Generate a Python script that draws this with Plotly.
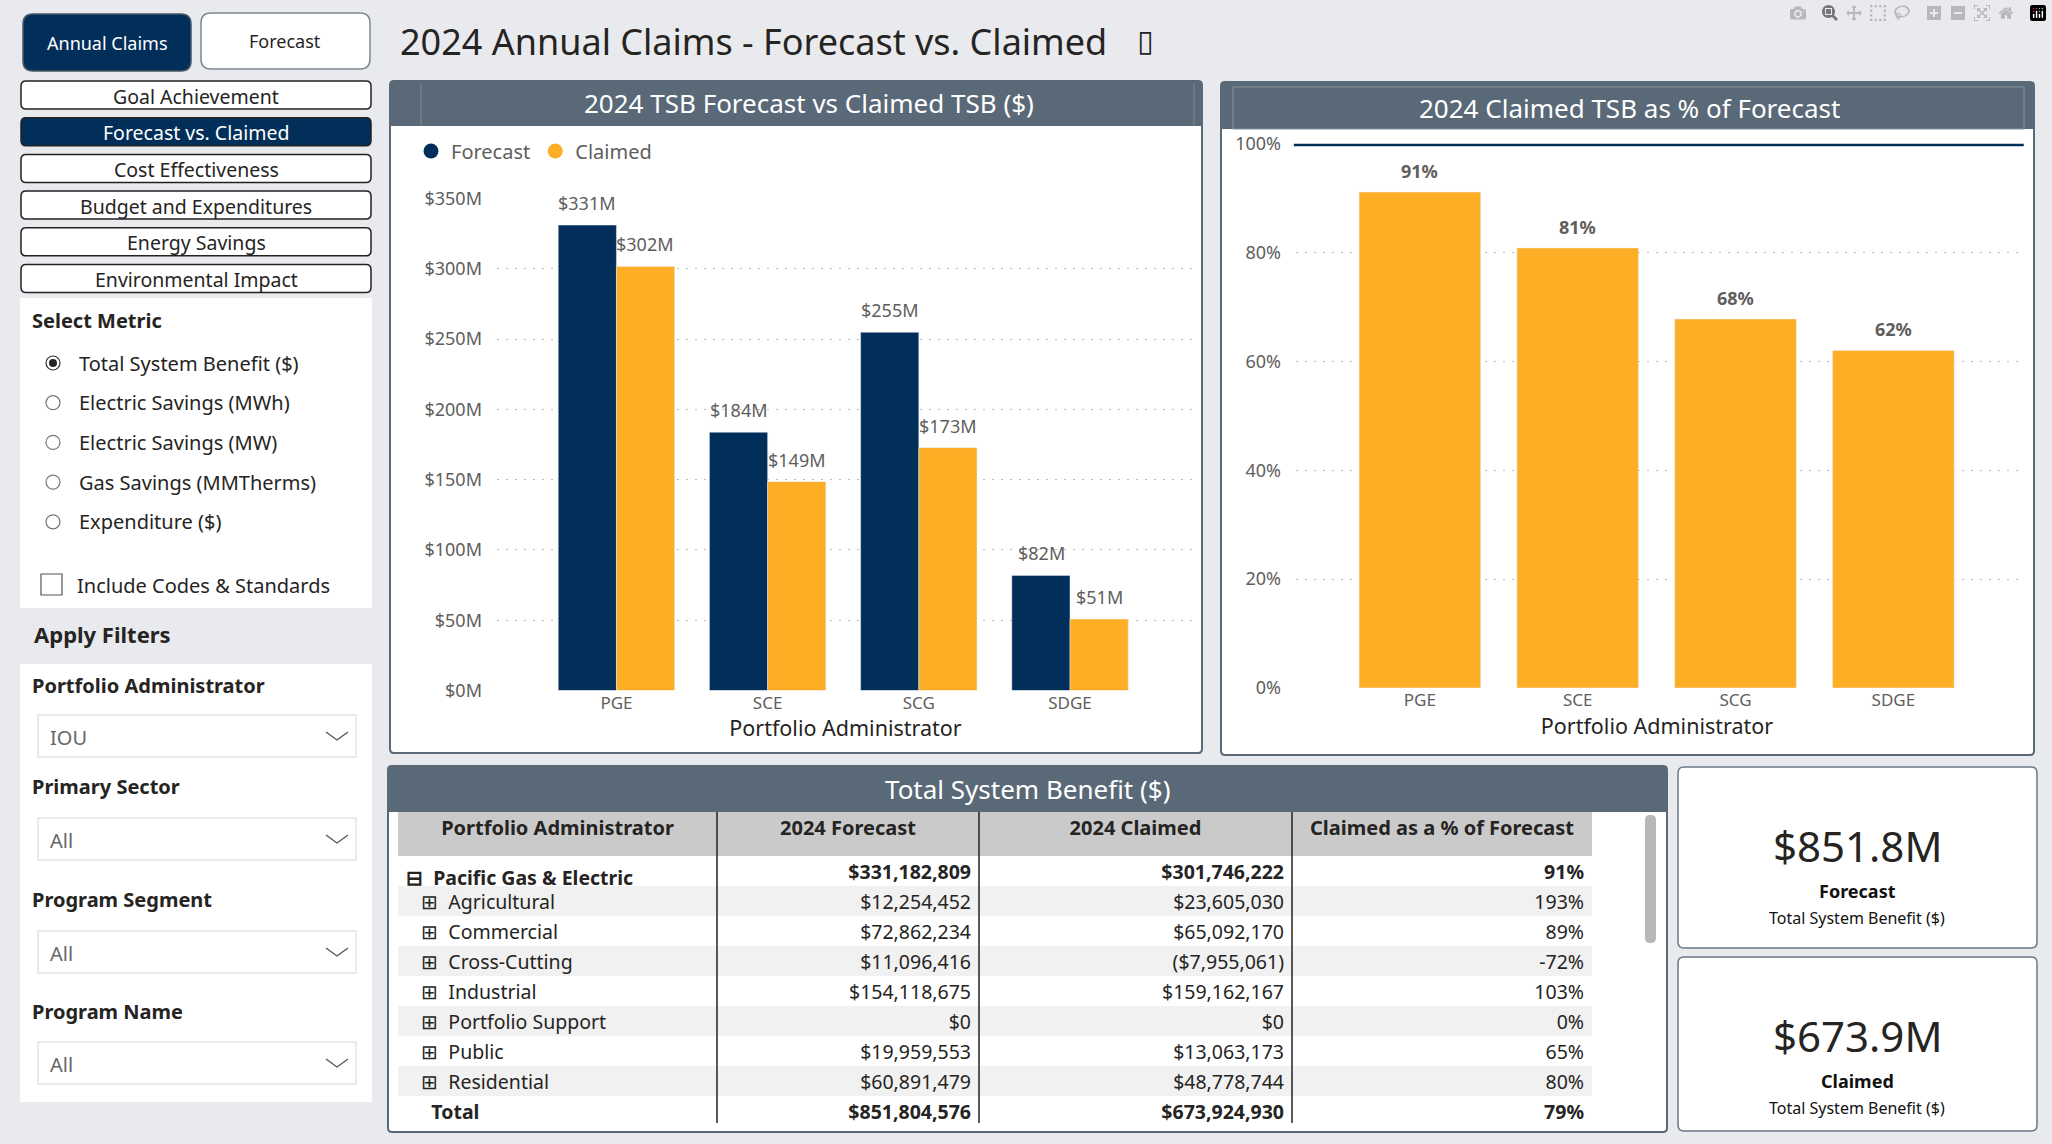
"""
    Main purpose:
        Rebuild the 2024 Annual Claims dashboard page (Forecast vs. Claimed).
"""

import plotly.graph_objects as go


W = 2052
H = 1144
FONT = 'Segoe UI, Noto Sans, sans-serif'
NAVY = '#022E5A'
ORANGE = '#FDAE24'
SLATE = '#5A6977'
BG = '#E9EAEE'
TXT = '#252423'
GREY_TXT = '#605E5C'

# chart data
PA = ['PGE', 'SCE', 'SCG', 'SDGE']
FORECAST_M = [331.18, 183.8, 254.9, 81.9]
CLAIMED_M = [301.75, 148.6, 172.8, 50.8]
TARGET_PCT = 1.0

# table data
SECTORS = ['Agricultural', 'Commercial', 'Cross-Cutting', 'Industrial',
           'Portfolio Support', 'Public', 'Residential']
PGE_FORECAST = 331182809
PGE_CLAIMED = 301746222
SECTOR_FORECAST = [12254452, 72862234, 11096416, 154118675, 0, 19959553, 60891479]
SECTOR_CLAIMED = [23605030, 65092170, -7955061, 159162167, 0, 13063173, 48778744]
TOTAL_FORECAST = 851804576
TOTAL_CLAIMED = 673924930
TABLE_HEADERS = ['Portfolio Administrator', '2024 Forecast', '2024 Claimed',
                 'Claimed as a % of Forecast']

# page furniture
NAV_PAGES = ['Goal Achievement', 'Forecast vs. Claimed', 'Cost Effectiveness',
             'Budget and Expenditures', 'Energy Savings', 'Environmental Impact']
ACTIVE_PAGE = 1
METRICS = ['Total System Benefit ($)', 'Electric Savings (MWh)',
           'Electric Savings (MW)', 'Gas Savings (MMTherms)', 'Expenditure ($)']
FILTER_LABELS = ['Portfolio Administrator', 'Primary Sector',
                 'Program Segment', 'Program Name']
FILTER_VALUES = ['IOU', 'All', 'All', 'All']
KPI_VALUES = ['$851.8M', '$673.9M']
KPI_NAMES = ['Forecast', 'Claimed']

COL_WIDTHS = [319, 262, 313, 300]
COL_ALIGN = ['left', 'right', 'right', 'right']
ROW_H = 30


def px_x(x):
    """Pixel column to paper x."""
    return x / W


def px_y(y):
    """Pixel row (from top) to paper y."""
    return 1 - y / H


def rrect(x0, y0, x1, y1, r, fill, line, width=1.5, layer='below'):
    """Rounded rectangle shape in pixel coordinates."""
    p = (
        f'M {px_x(x0 + r)},{px_y(y0)} L {px_x(x1 - r)},{px_y(y0)} '
        f'Q {px_x(x1)},{px_y(y0)} {px_x(x1)},{px_y(y0 + r)} '
        f'L {px_x(x1)},{px_y(y1 - r)} '
        f'Q {px_x(x1)},{px_y(y1)} {px_x(x1 - r)},{px_y(y1)} '
        f'L {px_x(x0 + r)},{px_y(y1)} '
        f'Q {px_x(x0)},{px_y(y1)} {px_x(x0)},{px_y(y1 - r)} '
        f'L {px_x(x0)},{px_y(y0 + r)} '
        f'Q {px_x(x0)},{px_y(y0)} {px_x(x0 + r)},{px_y(y0)} Z'
    )
    return dict(type='path', path=p, xref='paper', yref='paper',
                fillcolor=fill, line=dict(color=line, width=width), layer=layer)


def box(x0, y0, x1, y1, fill, line=None, width=1, layer='below'):
    """Plain rectangle shape in pixel coordinates."""
    return dict(type='rect', xref='paper', yref='paper',
                x0=px_x(x0), x1=px_x(x1), y0=px_y(y1), y1=px_y(y0),
                fillcolor=fill, layer=layer,
                line=dict(color=line or fill, width=width if line else 0))


def vline(x, y0, y1, color, width=1, layer='below'):
    """Vertical line in pixel coordinates."""
    return dict(type='line', xref='paper', yref='paper',
                x0=px_x(x), x1=px_x(x), y0=px_y(y0), y1=px_y(y1),
                line=dict(color=color, width=width), layer=layer)


def text(x, y, s, size, color=TXT, bold=False, xanchor='center', family=FONT):
    """Annotation placed in pixel coordinates."""
    if bold:
        s = f'<b>{s}</b>'
    return dict(x=px_x(x), y=px_y(y), xref='paper', yref='paper', text=s,
                showarrow=False, xanchor=xanchor, yanchor='middle',
                font=dict(size=size, color=color, family=family))


def bar_label(cat, val, label, xref, yref, xshift, yshift, bold=False):
    """Data label sitting above a bar, placed on the chart axes."""
    return dict(x=cat, y=val, xref=xref, yref=yref, xshift=xshift, yshift=yshift,
                text=f'<b>{label}</b>' if bold else label, showarrow=False,
                yanchor='middle', xanchor='center',
                font=dict(size=18, color=GREY_TXT, family=FONT))


def money(v):
    """Format a dollar amount like Power BI."""
    if v < 0:
        return f'(${-v:,.0f})'
    return f'${v:,.0f}'


def pct(a, b):
    """Claimed as share of forecast."""
    return f'{(a / b if b else 0):.0%}'


def table_block(top, bottom, head_values, head_fill, head_weight, head_align,
                head_h, cell_values, cell_fill, cell_weight):
    """One slice of the matrix; slices are stacked to mix bold and plain rows."""
    return go.Table(
        domain=dict(x=[px_x(398), px_x(1592)], y=[px_y(bottom), px_y(top)]),
        columnwidth=COL_WIDTHS,
        header=dict(
            values=head_values, fill_color=head_fill, align=head_align,
            height=head_h, line=dict(color=head_fill, width=0),
            font=dict(size=20 if head_weight == 'bold' and head_h > ROW_H else 19.5,
                      color=TXT, family=FONT, weight=head_weight)
        ),
        cells=dict(
            values=cell_values,
            fill_color=[cell_fill] * 4, line=dict(color=[cell_fill] * 4, width=0),
            align=COL_ALIGN, height=ROW_H,
            font=dict(size=19.5, color=TXT, family=FONT, weight=cell_weight)
        )
    )


fig = go.Figure()

# ---- left chart: forecast vs claimed
fig.add_trace(go.Bar(
    x=PA, y=FORECAST_M, name='Forecast', marker_color=NAVY,
    showlegend=False, xaxis='x', yaxis='y'
))
fig.add_trace(go.Bar(
    x=PA, y=CLAIMED_M, name='Claimed', marker_color=ORANGE,
    showlegend=False, xaxis='x', yaxis='y'
))
# legend entries drawn as round dots
for name, col in (('Forecast', NAVY), ('Claimed', ORANGE)):
    fig.add_trace(go.Scatter(
        x=[None], y=[None], mode='markers', name=name,
        marker=dict(color=col, size=15, symbol='circle'),
        xaxis='x', yaxis='y'
    ))

# ---- right chart: claimed as % of forecast
ratio = [c / f for c, f in zip(CLAIMED_M, FORECAST_M)]
fig.add_trace(go.Bar(
    x=PA, y=ratio, marker_color=ORANGE, showlegend=False,
    xaxis='x2', yaxis='y2'
))

# ---- table (header + PG&E row, sector rows, total row)
pge_row = [['⊟\u00a0 Pacific Gas & Electric'], [money(PGE_FORECAST)],
           [money(PGE_CLAIMED)], [pct(PGE_CLAIMED, PGE_FORECAST)]]
sector_cols = [
    [f'\u00a0\u00a0\u00a0⊞\u00a0 {s}' for s in SECTORS],
    [money(v) for v in SECTOR_FORECAST],
    [money(v) for v in SECTOR_CLAIMED],
    [pct(c, f) for c, f in zip(SECTOR_CLAIMED, SECTOR_FORECAST)],
]
total_row = ['\u00a0\u00a0\u00a0\u00a0\u00a0Total', money(TOTAL_FORECAST),
             money(TOTAL_CLAIMED), pct(TOTAL_CLAIMED, TOTAL_FORECAST)]
# first sector row rides in a header slot, the rest are ordinary cells
first_sector = [col[0] for col in sector_cols]
other_sectors = [col[1:] for col in sector_cols]
other_fill = ['white' if i % 2 == 0 else '#F1F1F1'
              for i in range(len(SECTORS) - 1)]

t_top = 812
pge_bottom = t_top + 44 + ROW_H
sector_bottom = pge_bottom + ROW_H * len(SECTORS)
fig.add_trace(table_block(t_top, pge_bottom + 1, TABLE_HEADERS, '#CACACA', 'bold',
                          'center', 44, pge_row, ['white'], 'bold'))
fig.add_trace(table_block(pge_bottom, sector_bottom + 1, first_sector, '#F1F1F1',
                          'normal', COL_ALIGN, ROW_H, other_sectors, other_fill,
                          'normal'))
fig.add_trace(table_block(sector_bottom, sector_bottom + ROW_H + 1, total_row,
                          'white', 'bold', COL_ALIGN, ROW_H, [], ['white'], 'bold'))

shapes = []
annotations = []

# bar labels
for cat, f, c, r in zip(PA, FORECAST_M, CLAIMED_M, ratio):
    annotations.append(bar_label(cat, f, f'${f:.0f}M', 'x', 'y', -29, 22))
    annotations.append(bar_label(cat, c, f'${c:.0f}M', 'x', 'y', 29, 22))
    annotations.append(bar_label(cat, r, f'{r:.0%}', 'x2', 'y2', 0, 21, bold=True))

# page title and top buttons
annotations.append(text(398, 42, '2024 Annual Claims - Forecast vs. Claimed', 36,
                        xanchor='left'))
annotations.append(text(1145, 41, '▯', 30, xanchor='center', family='DejaVu Sans'))
shapes.append(rrect(23, 14, 191, 71, 10, NAVY, '#4A5866', 1.5))
annotations.append(text(107, 43, 'Annual Claims', 18, color='white'))
shapes.append(rrect(201, 13, 370, 69, 10, 'white', '#7D8891', 1.5))
annotations.append(text(285, 41, 'Forecast', 18))

# navigation buttons
for i, page in enumerate(NAV_PAGES):
    y0 = 81 + i * 36.7
    active = i == ACTIVE_PAGE
    shapes.append(rrect(21, y0, 371, y0 + 28, 5, NAVY if active else 'white',
                        '#222222', 1.5))
    annotations.append(text(196, y0 + 15, page, 19.5,
                            color='white' if active else TXT))

# metric selector panel
shapes.append(box(20, 298, 372, 608, 'white'))
annotations.append(text(30, 320, 'Select Metric', 20, bold=True, xanchor='left'))
for i, m in enumerate(METRICS):
    yy = 363 + i * 39.7
    shapes.append(dict(type='circle', xref='paper', yref='paper',
                       x0=px_x(46), x1=px_x(60), y0=px_y(yy + 7), y1=px_y(yy - 7),
                       line=dict(color='#333333' if i == 0 else '#777777', width=1.2),
                       fillcolor='white', layer='above'))
    if i == 0:
        shapes.append(dict(type='circle', xref='paper', yref='paper',
                           x0=px_x(49), x1=px_x(57), y0=px_y(yy + 4), y1=px_y(yy - 4),
                           line=dict(width=0), fillcolor='#252423', layer='above'))
    annotations.append(text(77, yy, m, 20, xanchor='left'))
shapes.append(box(41, 574, 62, 595, 'white', '#555555', 1.2, layer='above'))
annotations.append(text(75, 585, 'Include Codes & Standards', 20, xanchor='left'))

# filters
annotations.append(text(32, 634, 'Apply Filters', 22, bold=True, xanchor='left'))
shapes.append(box(20, 664, 372, 1102, 'white'))
label_y = [685, 786, 899, 1011]
drop_y = [715, 818, 931, 1042]
for lab, val, ly, dy in zip(FILTER_LABELS, FILTER_VALUES, label_y, drop_y):
    annotations.append(text(30, ly, lab, 20, bold=True, xanchor='left'))
    shapes.append(box(38, dy, 356, dy + 42, 'white', '#E3E3E3', 1.5))
    annotations.append(text(48, dy + 22, val, 20, color='#666666', xanchor='left'))
    shapes.append(dict(
        type='path', xref='paper', yref='paper', layer='above',
        path=(f'M {px_x(326)},{px_y(dy + 17)} L {px_x(337)},{px_y(dy + 25)} '
              f'L {px_x(348)},{px_y(dy + 17)}'),
        line=dict(color='#555555', width=1.3)
    ))

# chart cards
shapes.append(rrect(390, 81, 1202, 753, 4, 'white', SLATE, 2))
shapes.append(box(390, 81, 1202, 126, SLATE))
shapes.append(vline(421, 83, 126, '#7D8A96'))
shapes.append(vline(1194, 83, 126, '#7D8A96'))
annotations.append(text(809, 103, '2024 TSB Forecast vs Claimed TSB ($)', 26,
                        color='white'))
shapes.append(rrect(1221, 82, 2034, 755, 4, 'white', SLATE, 2))
shapes.append(box(1221, 82, 2034, 129, SLATE))
shapes.append(box(1233, 87, 2024, 129, 'rgba(0,0,0,0)', '#8592A0', 1))
annotations.append(text(1629, 108, '2024 Claimed TSB as % of Forecast', 26,
                        color='white'))

# target line on the % chart
shapes.append(dict(type='line', xref='x2 domain', yref='y2', x0=-0.003, x1=1.008,
                   y0=TARGET_PCT, y1=TARGET_PCT, line=dict(color=NAVY, width=5),
                   layer='above'))

# table card
shapes.append(rrect(388, 766, 1667, 1132, 4, 'white', SLATE, 2))
shapes.append(box(388, 766, 1667, 812, SLATE))
annotations.append(text(1027, 789, 'Total System Benefit ($)', 26, color='white'))
for xx in (717, 979, 1292):
    shapes.append(vline(xx, 812, 1123, '#222222', 1.5, layer='above'))
shapes.append(rrect(1645, 815, 1656, 943, 5, '#B8B8B8', '#B8B8B8', 0))

# KPI cards
for i, (val, name) in enumerate(zip(KPI_VALUES, KPI_NAMES)):
    top = 767 if i == 0 else 957
    bottom = 948 if i == 0 else 1131
    shapes.append(rrect(1678, top, 2037, bottom, 6, 'white', '#6B7885', 1.5))
    annotations.append(text(1857, top + 78, val, 42, color=TXT))
    annotations.append(text(1857, top + 124, name, 18, bold=True, color='#111111'))
    annotations.append(text(1857, top + 151, 'Total System Benefit ($)', 16,
                            color='#111111'))

grid = dict(showgrid=True, gridcolor='#BDBDBD', griddash='2px,7px', gridwidth=1.4,
            zeroline=False, showline=False, ticks='', automargin=False,
            tickfont=dict(size=18, color=GREY_TXT, family=FONT))
cat_axis = dict(showgrid=False, zeroline=False, showline=False, ticks='',
                automargin=False,
                tickfont=dict(size=17, color=GREY_TXT, family=FONT),
                title=dict(text='Portfolio Administrator', standoff=6,
                           font=dict(size=21.5, color=TXT, family=FONT)))

fig.update_layout(
    width=W,
    height=H,
    margin=dict(l=0, r=0, t=0, b=0, autoexpand=False),
    paper_bgcolor=BG,
    plot_bgcolor='rgba(0,0,0,0)',
    font=dict(family=FONT, color=TXT),
    barmode='group',
    bargap=0.23,
    bargroupgap=0,
    xaxis=dict(domain=[px_x(497), px_x(1194)], range=[-0.79, 3.82],
               anchor='y', **cat_axis),
    yaxis=dict(domain=[px_y(690.5), px_y(198.6)], range=[0, 350], dtick=50,
               tickprefix='$', ticksuffix='M', anchor='x', ticklabelstandoff=14,
               **grid),
    xaxis2=dict(domain=[px_x(1296), px_x(2018)], range=[-0.785, 3.79],
                anchor='y2', **cat_axis),
    yaxis2=dict(domain=[px_y(688), px_y(143.7)], range=[0, 1], dtick=0.2,
                tickformat='.0%', anchor='x2', ticklabelstandoff=14, **grid),
    legend=dict(orientation='h', x=px_x(411), y=px_y(151), xanchor='left',
                yanchor='middle', font=dict(size=20, color=GREY_TXT, family=FONT),
                itemwidth=30, tracegroupgap=0, bgcolor='rgba(0,0,0,0)'),
    shapes=shapes,
    annotations=annotations,
)

fig.write_html('out.html', post_script="document.body.style.margin='0';")
